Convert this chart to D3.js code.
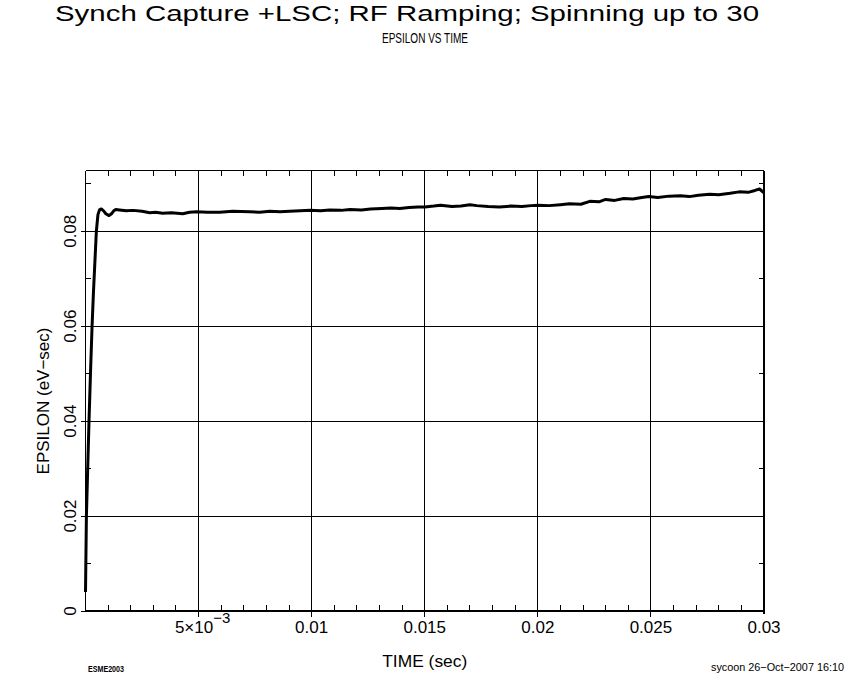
<!DOCTYPE html>
<html>
<head>
<meta charset="utf-8">
<script src="https://cdn.jsdelivr.net/npm/d3@7"></script>
<style>
  html, body { margin: 0; padding: 0; background: #fff; }
  svg { display: block; }
  text { font-family: "Liberation Sans", "DejaVu Sans", sans-serif; font-weight: 400; fill: #000; }
</style>
</head>
<body>
<svg id="chart" width="850" height="680"></svg>
<script>
// ---- data ----
const title = "Synch Capture +LSC; RF Ramping; Spinning up to 30";
const subtitle = "EPSILON VS TIME";
const xLabel = "TIME (sec)";
const yLabel = "EPSILON (eV\u2212sec)";
const leftNote = "ESME2003";
const rightNote = "sycoon 26\u2212Oct\u22122007 16:10";

const xTicks = [0.005, 0.01, 0.015, 0.02, 0.025, 0.03];
const xTickLabels = ["5\u00d710", "0.01", "0.015", "0.02", "0.025", "0.03"];
const yTicks = [0, 0.02, 0.04, 0.06, 0.08];
const yTickLabels = ["0", "0.02", "0.04", "0.06", "0.08"];

const time = [
  0, 0.00002, 0.00004, 0.00008, 0.00012, 0.000155, 0.00022, 0.00029, 0.00035, 0.00042,
  0.00048, 0.00055, 0.00062, 0.0007, 0.0008, 0.0009, 0.00104, 0.00115, 0.00125, 0.00134,
  0.0015, 0.0018, 0.0021, 0.0025, 0.00284, 0.0031, 0.00341, 0.0038, 0.0043, 0.0046,
  0.00492, 0.0054, 0.00594, 0.0065, 0.00726, 0.0077, 0.00815, 0.0086, 0.00903, 0.0095,
  0.00992, 0.0104, 0.0108, 0.0113, 0.0117, 0.0122, 0.0126, 0.0131, 0.0135, 0.0139,
  0.0143, 0.0147, 0.0150, 0.0154, 0.0157, 0.0162, 0.0166, 0.0170, 0.0173, 0.0178,
  0.0183, 0.0188, 0.0193, 0.0197, 0.0200, 0.0205, 0.0210, 0.0214, 0.0219, 0.0223,
  0.0227, 0.0230, 0.0234, 0.0238, 0.0242, 0.0246, 0.0249, 0.0253, 0.0258, 0.0263,
  0.0267, 0.0271, 0.0276, 0.0280, 0.0285, 0.0289, 0.0293, 0.0296, 0.0298, 0.0300
];
const epsilon = [
  0.004, 0.012, 0.020, 0.027, 0.034, 0.040, 0.050, 0.060, 0.067, 0.074,
  0.080, 0.0835, 0.0845, 0.0847, 0.0843, 0.0837, 0.0833, 0.0837, 0.0843, 0.0846,
  0.0845, 0.0843, 0.0844, 0.0842, 0.0839, 0.0840, 0.0838, 0.0839, 0.0837, 0.0840,
  0.0841, 0.0840, 0.0840, 0.0842, 0.0841, 0.0840, 0.0842, 0.0841, 0.0842, 0.0843,
  0.0844, 0.0843, 0.0845, 0.0844, 0.0846, 0.0845, 0.0847, 0.0848, 0.0849, 0.0848,
  0.0850, 0.0851, 0.0851, 0.0853, 0.0855, 0.0852, 0.0853, 0.0856, 0.0854, 0.0852,
  0.0851, 0.0853, 0.0852, 0.0854, 0.0855, 0.0854, 0.0856, 0.0858, 0.0857, 0.0863,
  0.0862, 0.0867, 0.0865, 0.0869, 0.0868, 0.0871, 0.0873, 0.0871, 0.0874, 0.0875,
  0.0873, 0.0876, 0.0878, 0.0877, 0.0880, 0.0883, 0.0882, 0.0886, 0.0889, 0.0881
];

// ---- layout ----
const svg = d3.select("#chart");
const L = 85.5, R = 764, T = 170.5, B = 611;
const x = d3.scaleLinear().domain([0, 0.03]).range([L, R]);
const y = d3.scaleLinear().domain([0, 0.0928]).range([B, T]);

svg.append("rect").attr("width", 850).attr("height", 680).attr("fill", "#fff");

// gridlines
const grid = svg.append("g").attr("stroke", "#000").attr("stroke-width", 1).attr("shape-rendering", "crispEdges");
xTicks.slice(0, -1).forEach(v => {
  grid.append("line").attr("x1", x(v)).attr("x2", x(v)).attr("y1", T).attr("y2", B + 6);
});
yTicks.slice(1).forEach(v => {
  grid.append("line").attr("x1", L - 5).attr("x2", R).attr("y1", y(v)).attr("y2", y(v));
});
grid.append("line").attr("x1", L - 5).attr("x2", L).attr("y1", B).attr("y2", B);

// minor ticks
const xMinor = d3.range(1, 30).map(i => i * 0.001).filter(v => Math.abs((v / 0.005) - Math.round(v / 0.005)) > 1e-6);
const yMinor = [0.01, 0.03, 0.05, 0.07, 0.09];
xMinor.forEach(v => {
  grid.append("line").attr("x1", x(v)).attr("x2", x(v)).attr("y1", B).attr("y2", B - 6);
  grid.append("line").attr("x1", x(v)).attr("x2", x(v)).attr("y1", T).attr("y2", T + 5);
});
yMinor.forEach(v => {
  grid.append("line").attr("x1", L).attr("x2", L + 5).attr("y1", y(v)).attr("y2", y(v));
  grid.append("line").attr("x1", R).attr("x2", R - 5).attr("y1", y(v)).attr("y2", y(v));
});

// frame
const frame = svg.append("g").attr("stroke", "#000").attr("shape-rendering", "crispEdges");
frame.append("line").attr("x1", L).attr("x2", L).attr("y1", T).attr("y2", B).attr("stroke-width", 1);
frame.append("line").attr("x1", L).attr("x2", R).attr("y1", T).attr("y2", T).attr("stroke-width", 1);
frame.append("line").attr("x1", R).attr("x2", R).attr("y1", T).attr("y2", B + 3).attr("stroke-width", 2);
frame.append("line").attr("x1", L).attr("x2", R + 1).attr("y1", B).attr("y2", B).attr("stroke-width", 2);

// curve
const pts = time.map((t, i) => [t, epsilon[i]]);
svg.append("path")
  .datum(pts)
  .attr("fill", "none")
  .attr("stroke", "#000")
  .attr("stroke-width", 3)
  .attr("stroke-linejoin", "round")
  .attr("d", d3.line().x(d => x(d[0])).y(d => y(d[1])));

// x tick labels
xTicks.forEach((v, i) => {
  const tx = svg.append("text")
    .attr("x", x(v) + (i === 0 ? 4 : 0)).attr("y", 633)
    .attr("text-anchor", "middle")
    .attr("font-size", 17);
  tx.append("tspan").text(xTickLabels[i]);
  if (i === 0) {
    tx.append("tspan").attr("dy", -10).attr("font-size", 15).text("\u22123");
  }
});

// y tick labels
yTicks.forEach((v, i) => {
  svg.append("text")
    .attr("transform", `translate(76,${y(v)}) rotate(-90)`)
    .attr("text-anchor", "middle")
    .attr("font-size", 17)
    .text(yTickLabels[i]);
});

// axis titles
svg.append("text").attr("x", (L + R) / 2).attr("y", 667).attr("text-anchor", "middle")
  .attr("font-size", 17).attr("textLength", 85).attr("lengthAdjust", "spacingAndGlyphs").text(xLabel);
svg.append("text").attr("transform", `translate(49,401) rotate(-90)`).attr("text-anchor", "middle")
  .attr("font-size", 17).text(yLabel);

// titles
svg.append("text").attr("x", 407).attr("y", 20.5).attr("text-anchor", "middle")
  .attr("font-size", 22.5).attr("textLength", 704).attr("lengthAdjust", "spacingAndGlyphs").text(title);
svg.append("text").attr("x", 425).attr("y", 43).attr("text-anchor", "middle")
  .attr("font-size", 15).attr("textLength", 86).attr("lengthAdjust", "spacingAndGlyphs").text(subtitle);

// footnotes
svg.append("text").attr("x", 88).attr("y", 672).attr("font-size", 9)
  .style("font-weight", 700).attr("textLength", 36).attr("lengthAdjust", "spacingAndGlyphs").text(leftNote);
svg.append("text").attr("x", 844).attr("y", 671).attr("text-anchor", "end").attr("font-size", 11)
  .attr("textLength", 133).attr("lengthAdjust", "spacingAndGlyphs").text(rightNote);
</script>
</body>
</html>
